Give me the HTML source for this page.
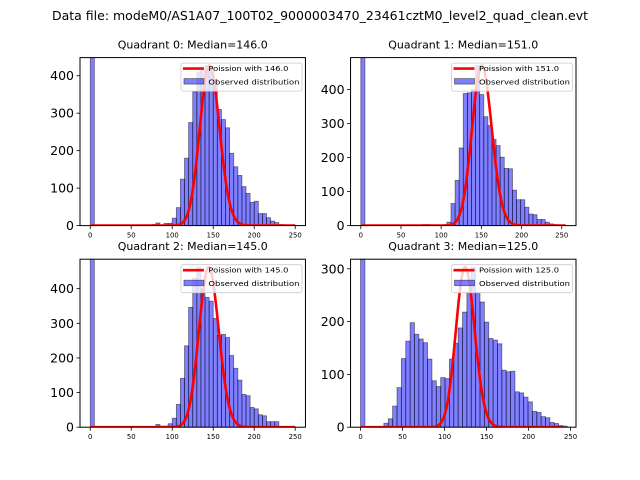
<!DOCTYPE html>
<html><head><meta charset="utf-8"><style>
html,body{margin:0;padding:0;background:#fff;}
svg{display:block;font-family:"DejaVu Sans","Liberation Sans",sans-serif;}
</style></head><body>
<svg id="fig" width="640" height="480" viewBox="0 0 640 480" xmlns="http://www.w3.org/2000/svg">
<rect x="0" y="0" width="640" height="480" fill="#fff"/>
<text x="320" y="20" text-anchor="middle" font-size="12" textLength="536" lengthAdjust="spacingAndGlyphs">Data file: modeM0/AS1A07_100T02_9000003470_23461cztM0_level2_quad_clean.evt</text>
</svg>
<script>
const quadNames = ["Quadrant 0", "Quadrant 1", "Quadrant 2", "Quadrant 3"];
const medians = [146.0, 151.0, 145.0, 125.0];
const zeroCounts = [2000, 2000, 2000, 2000];
const firstEdges = [75, 76.5, 50, 27.8];
const binWidths = [5, 5.1, 5, 5.2];
const xMaxData = [250, 255, 250, 240];
const counts0 = [3,7,1,6,6,20,48,124,180,275,357,410,415,427,420,388,310,283,261,193,157,134,104,86,62,65,32,32,21,12,8,3,2,1,1];
const counts1 = [3,3,0,0,0,3,10,65,133,228,388,390,400,470,385,320,294,253,235,201,168,167,104,76,76,54,34,32,18,18,10,5,3,1];
const counts2 = [1,0,0,2,1,0,8,3,3,10,26,66,141,235,346,430,462,400,375,364,314,266,268,259,207,170,136,95,91,57,53,36,33,16,16,16,2];
const counts3 = [7.5,16,40,75,130,163,198,176,167,160,129,88,77,94,92,129,159,188,218,256,303,253,237,199,168,165,158,108,105,106,67,65,57,48,30,28,20,18,9,7,3,2];
const xTicks = [0, 50, 100, 150, 200, 250];
const yTicks0 = [0, 100, 200, 300, 400];
const yTicks1 = [0, 100, 200, 300, 400];
const yTicks2 = [0, 100, 200, 300, 400];
const yTicks3 = [0, 100, 200, 300];

const allCounts = [counts0, counts1, counts2, counts3];
const allYTicks = [yTicks0, yTicks1, yTicks2, yTicks3];
const xLims = [[-12.5, 262.5], [-12.75, 267.75], [-12.5, 262.5], [-11.9, 256.5]];
const boxes = [[80, 57.6], [350.55, 57.6], [80, 259.2], [350.55, 259.2]];
const AW = 225.45, AH = 168;
const NS = "http://www.w3.org/2000/svg";
const svg = document.getElementById('fig');

function mk(tag, attrs, parent) {
  const e = document.createElementNS(NS, tag);
  for (const k in attrs) e.setAttribute(k, attrs[k]);
  (parent || svg).appendChild(e);
  return e;
}
function lgamma(z) {
  if (z < 7) { let r = 0; while (z < 7) { r -= Math.log(z); z += 1; } return r + lgamma(z); }
  return (z - 0.5) * Math.log(z) - z + 0.5 * Math.log(2 * Math.PI) + 1 / (12 * z) - 1 / (360 * z * z * z);
}

for (let p = 0; p < 4; p++) {
  const [bx, by] = boxes[p];
  const cnts = allCounts[p];
  const maxC = Math.max(...cnts);
  const yMax = maxC * 1.05;
  const [x0, x1] = xLims[p];
  const sx = v => bx + (v - x0) / (x1 - x0) * AW;
  const sy = v => by + AH - v / yMax * AH;
  const g = mk('g', {});
  
  
  const cid = 'clip' + p;
  const cp = mk('clipPath', { id: cid }, g);
  mk('rect', { x: bx, y: by, width: AW, height: AH }, cp);
  const bars = mk('g', { 'clip-path': 'url(#' + cid + ')' }, g);
  // zero bar
  const zb = mk('rect', { x: sx(0), y: sy(zeroCounts[p]), width: sx(binWidths[p]) - sx(0), height: sy(0) - sy(zeroCounts[p]), fill: 'rgba(0,0,255,0.5)', stroke: 'rgba(0,0,0,0.5)', 'stroke-width': 0.8 }, bars);
  
  
  for (let i = 0; i < cnts.length; i++) {
    const e0 = firstEdges[p] + i * binWidths[p];
    const v = cnts[i];
    if (v <= 0) continue;
    const r = mk('rect', { x: sx(e0), y: sy(v), width: sx(e0 + binWidths[p]) - sx(e0), height: sy(0) - sy(v), fill: 'rgba(0,0,255,0.5)', stroke: 'rgba(0,0,0,0.5)', 'stroke-width': 0.8 }, bars);
    
    
  }
  // poisson
  const mu = medians[p];
  const lp = [];
  for (let k = 0; k <= xMaxData[p]; k++) lp.push(k * Math.log(mu) - mu - lgamma(k + 1));
  const lmax = Math.max(...lp);
  let d = '';
  lp.forEach((l, k) => { d += (k ? 'L' : 'M') + sx(k).toFixed(2) + ',' + sy(Math.exp(l - lmax) * maxC).toFixed(2); });
  const curve = mk('path', { d: d, fill: 'none', stroke: '#ff0000', 'stroke-width': 2.6, 'stroke-linejoin': 'round' }, bars);
  
  
  // frame
  const fr = mk('rect', { x: bx, y: by, width: AW, height: AH, fill: 'none', stroke: '#000', 'stroke-width': 1 }, g);
  
  
  // x ticks
  xTicks.forEach(t => {
    const x = sx(t);
    mk('line', { x1: x, y1: by + AH, x2: x, y2: by + AH + 3.5, stroke: '#000', 'stroke-width': 0.8 }, g);
    const tl = mk('text', { x: x, y: by + AH + 12, 'text-anchor': 'middle', 'font-size': 6.9 }, g);
    tl.textContent = String(t);
    
    
  });
  // y ticks
  allYTicks[p].forEach(t => {
    const y = sy(t);
    mk('line', { x1: bx - 3.5, y1: y, x2: bx, y2: y, stroke: '#000', 'stroke-width': 0.8 }, g);
    const tl = mk('text', { x: bx - 6, y: y + 4.5, 'text-anchor': 'end', 'font-size': 12.5 }, g);
    tl.textContent = String(t);
    
    
  });
  // title
  const tt = mk('text', { x: bx + AW / 2, y: by - 9, 'text-anchor': 'middle', 'font-size': 10.5, textLength: 150, lengthAdjust: 'spacingAndGlyphs' }, g);
  tt.textContent = quadNames[p] + ': Median=' + medians[p].toFixed(1);
  
  
  // legend
  const lg = mk('g', {}, g);
  
  
  const lx = bx + AW - 124.5, ly = by + 5.5;
  mk('rect', { x: lx, y: ly, width: 121, height: 28, rx: 2, fill: 'rgba(255,255,255,0.8)', stroke: '#cccccc', 'stroke-width': 0.8 }, lg);
  mk('line', { x1: lx + 2, y1: ly + 5.5, x2: lx + 23, y2: ly + 5.5, stroke: '#ff0000', 'stroke-width': 2.6 }, lg);
  const t1 = mk('text', { x: lx + 27.5, y: ly + 8, 'font-size': 7, textLength: 80, lengthAdjust: 'spacingAndGlyphs' }, lg);
  t1.textContent = 'Poission with ' + medians[p].toFixed(1);
  
  
  mk('rect', { x: lx + 3, y: ly + 15.5, width: 20, height: 5.5, fill: 'rgba(0,0,255,0.5)', stroke: 'rgba(0,0,0,0.5)', 'stroke-width': 0.8 }, lg);
  const t2 = mk('text', { x: lx + 27.5, y: ly + 21.5, 'font-size': 7, textLength: 91, lengthAdjust: 'spacingAndGlyphs' }, lg);
  t2.textContent = 'Observed distribution';
  
  
}
</script>
</body></html>
